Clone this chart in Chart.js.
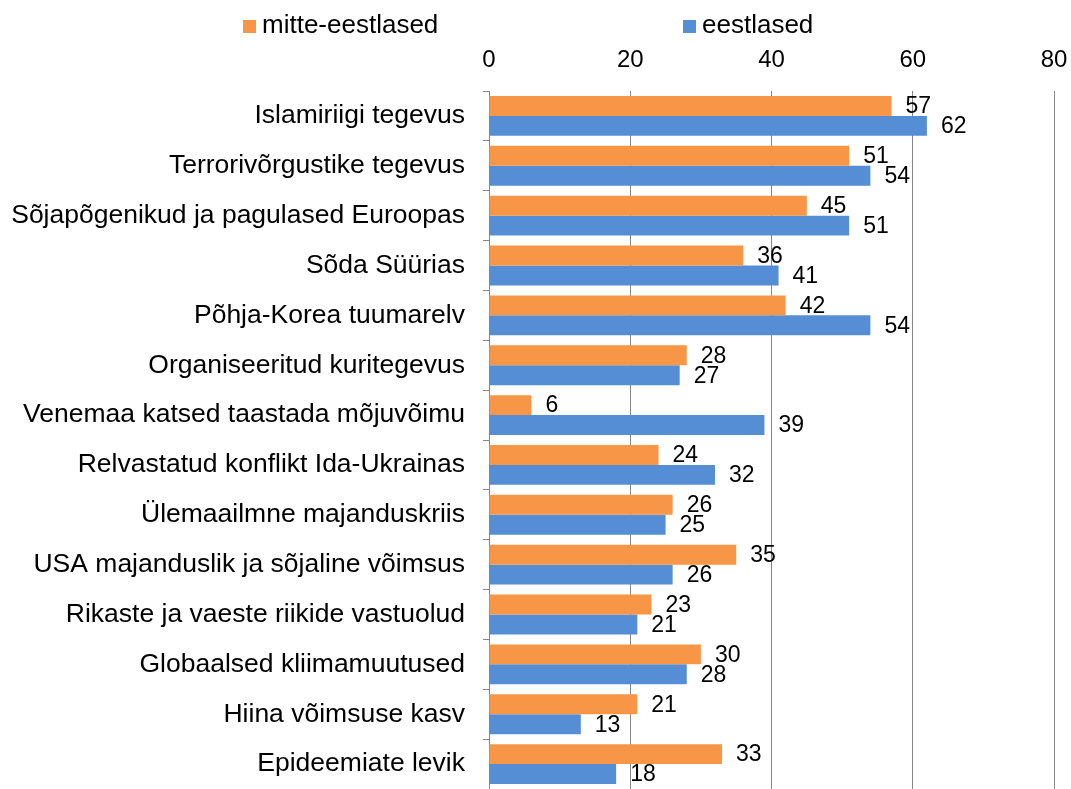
<!DOCTYPE html>
<html>
<head>
<meta charset="utf-8">
<script src="https://cdn.jsdelivr.net/npm/chart.js@4"></script>
<style>
  html, body { margin: 0; padding: 0; background: #fff; }
  #wrap { width: 1071px; height: 789px; position: relative; }
</style>
</head>
<body>
<div id="wrap"><canvas id="chart"></canvas></div>
<script>
// categories and values
const categories = [
  'Islamiriigi tegevus',
  'Terrorivõrgustike tegevus',
  'Sõjapõgenikud ja pagulased Euroopas',
  'Sõda Süürias',
  'Põhja-Korea tuumarelv',
  'Organiseeritud kuritegevus',
  'Venemaa katsed taastada mõjuvõimu',
  'Relvastatud konflikt Ida-Ukrainas',
  'Ülemaailmne majanduskriis',
  'USA majanduslik ja sõjaline võimsus',
  'Rikaste ja vaeste riikide vastuolud',
  'Globaalsed kliimamuutused',
  'Hiina võimsuse kasv',
  'Epideemiate levik'
];
const nonEstonians = [57, 51, 45, 36, 42, 28, 6, 24, 26, 35, 23, 30, 21, 33];
const estonians = [62, 54, 51, 41, 54, 27, 39, 32, 25, 26, 21, 28, 13, 18];
const seriesNames = ['mitte-eestlased', 'eestlased'];
const xTicks = [0, 20, 40, 60, 80];

const FONT = '"Liberation Sans", Arial, sans-serif';
const gridGray = '#868686';

// value labels to the right of each bar
const valueLabels = {
  id: 'valueLabels',
  afterDatasetsDraw(chart) {
    const ctx = chart.ctx;
    ctx.save();
    ctx.font = '23px ' + FONT;
    ctx.fillStyle = '#000';
    ctx.textAlign = 'left';
    ctx.textBaseline = 'middle';
    chart.data.datasets.forEach((ds, i) => {
      const meta = chart.getDatasetMeta(i);
      meta.data.forEach((bar, j) => {
        ctx.fillText(String(ds.data[j]), bar.x + 14, bar.y + 1);
      });
    });
    ctx.restore();
  }
};

// legend drawn by hand so the two items can sit far apart like the original
const topLegend = {
  id: 'topLegend',
  afterDraw(chart) {
    const ctx = chart.ctx;
    const starts = [243, 683];
    ctx.save();
    ctx.font = '26px ' + FONT;
    ctx.textBaseline = 'middle';
    ctx.textAlign = 'left';
    chart.data.datasets.forEach((ds, i) => {
      ctx.fillStyle = ds.backgroundColor;
      ctx.fillRect(starts[i], 20, 13, 13);
      ctx.fillStyle = '#000';
      ctx.fillText(ds.label, starts[i] + 19, 26);
    });
    ctx.restore();
  }
};

// drop the extra room Chart.js keeps for half-labels at the axis ends
const noEdgePadding = (scale) => {
  scale.paddingLeft = 0;
  scale.paddingRight = 0;
  scale.paddingTop = 0;
  scale.paddingBottom = 0;
};

new Chart(document.getElementById('chart'), {
  type: 'bar',
  data: {
    labels: categories,
    datasets: [
      { label: seriesNames[0], data: nonEstonians, backgroundColor: '#F79646' },
      { label: seriesNames[1], data: estonians, backgroundColor: '#558ED5' }
    ]
  },
  options: {
    indexAxis: 'y',
    responsive: true,
    maintainAspectRatio: false,
    animation: false,
    layout: { padding: { top: 0, right: 17, bottom: -2, left: 0 } },
    datasets: {
      bar: { categoryPercentage: 0.8, barPercentage: 1.0 }
    },
    plugins: {
      legend: { display: false },
      tooltip: { enabled: false }
    },
    scales: {
      x: {
        position: 'top',
        min: 0,
        max: 80,
        afterBuildTicks: (scale) => { scale.ticks = xTicks.map(v => ({ value: v })); },
        afterFit: (scale) => { scale.height = 91; noEdgePadding(scale); },
        grid: { color: gridGray, lineWidth: 1, drawTicks: false },
        border: { display: false },
        ticks: { color: '#000', font: { family: FONT, size: 24 }, padding: 16 }
      },
      y: {
        afterFit: (scale) => { scale.width = 489; noEdgePadding(scale); },
        grid: { offset: true, drawOnChartArea: false, color: gridGray, tickLength: 6 },
        border: { display: true, color: gridGray, width: 1 },
        ticks: { color: '#000', font: { family: FONT, size: 26.5 }, padding: 18, autoSkip: false }
      }
    }
  },
  plugins: [valueLabels, topLegend]
});
</script>
</body>
</html>
